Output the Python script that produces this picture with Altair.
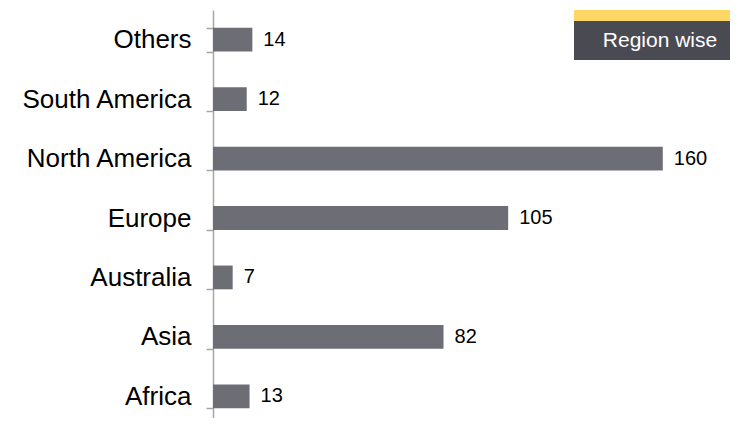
import altair as alt
import pandas as pd

regions = ["Others", "South America", "North America", "Europe", "Australia", "Asia", "Africa"]
counts = [14, 12, 160, 105, 7, 82, 13]
badge_text = ["Region wise"]

df = pd.DataFrame({"region": regions, "count": counts})

FONT = "Liberation Sans"

y_enc = alt.Y(
    "region:N",
    sort=regions,
    scale=alt.Scale(range=[0, 416], paddingInner=0.6, paddingOuter=0.3),
    axis=alt.Axis(
        title=None,
        tickBand="extent",
        tickSize=7,
        tickColor="#a6a6a6",
        tickWidth=1.5,
        domainColor="#a6a6a6",
        domainWidth=1.5,
        labelFontSize=26,
        labelFont=FONT,
        labelColor="#000000",
        labelPadding=15,
        grid=False,
    ),
)
x_enc = alt.X("count:Q", scale=alt.Scale(domain=[0, 180], nice=False), axis=None)

base = alt.Chart(df)
bars = base.mark_bar(color="#6d6d75").encode(x=x_enc, y=y_enc)
labels = base.mark_text(
    align="left", baseline="middle", dx=11, fontSize=20, font=FONT, color="#000000"
).encode(x=x_enc, y=y_enc, text="count:Q")

badge_df = alt.Data(values=[{"t": badge_text[0]}])
yellow = alt.Chart(badge_df).mark_rect(color="#fdd766").encode(
    x=alt.value(361), x2=alt.value(517), y=alt.value(0), y2=alt.value(11)
)
dark = alt.Chart(badge_df).mark_rect(color="#4a4a53").encode(
    x=alt.value(361), x2=alt.value(517), y=alt.value(11), y2=alt.value(50)
)
badge_label = alt.Chart(badge_df).mark_text(
    align="center", baseline="middle", fontSize=21, font=FONT, color="#ffffff"
).encode(x=alt.value(447), y=alt.value(31), text="t:N")

chart = (
    alt.layer(bars, labels, yellow, dark, badge_label)
    .properties(
        width=506,
        height=408,
        autosize=alt.AutoSizeParams(type="none"),
        padding={"left": 205, "top": 2, "right": 11, "bottom": 0},
    )
    .configure_view(stroke=None)
)

chart.save("out.html", embed_options={"renderer": "svg", "actions": False})
